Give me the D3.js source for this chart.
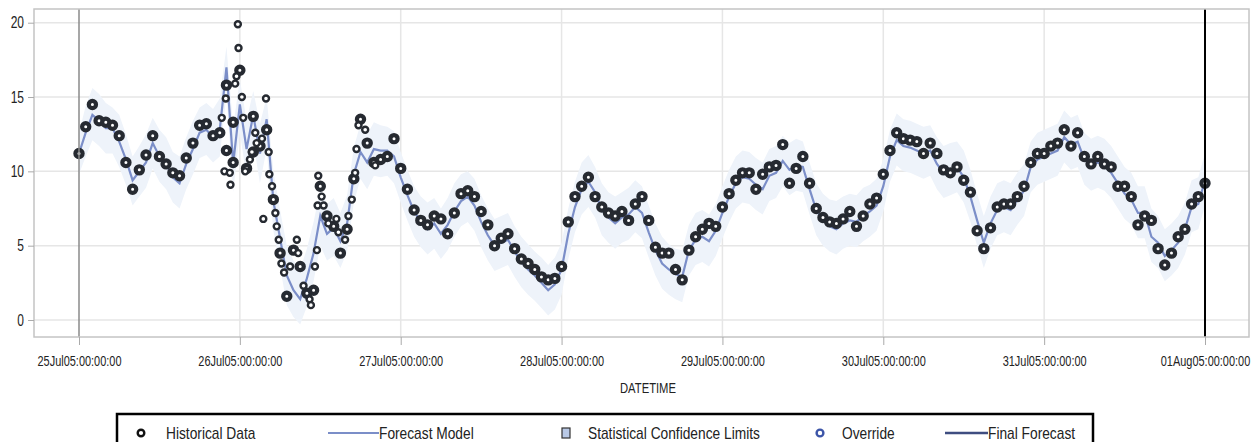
<!DOCTYPE html>
<html>
<head>
<meta charset="utf-8">
<script src="https://cdn.jsdelivr.net/npm/d3@7"></script>
<style>
  body { margin: 0; background: #fff; }
  svg text { font-family: "Liberation Sans", Arial, sans-serif; fill: #222; }
</style>
</head>
<body>
<div id="chart"></div>
<script>
const W = 1255, H = 442;
const frame = {left: 34, right: 1249, top: 9, bottom: 337};

// hourly series starting 25Jul05 00:00 (169 values)
const histData = [
  11.2, 13.0, 14.5, 13.4, 13.3, 13.1, 12.4, 10.6, 8.8, 10.1, 11.1, 12.4, 11.0, 10.5, 9.9, 9.7, 10.9, 11.9, 13.1, 13.2, 12.4, 12.6,
  11.4, 10.6, 16.8, 10.2, 11.3, 11.7, 12.8, 8.1, 4.5, 1.6, 4.7, 3.6, 1.8, 2.0, 9.0, 7.0, 6.3, 4.5, 6.1, 9.5, 13.5, 11.9, 10.6, 10.8, 11.0, 12.2,
  10.2, 8.8, 7.4, 6.7, 6.4, 7.0, 6.8, 5.8, 7.2, 8.5, 8.7, 8.3, 7.3, 6.4, 5.0, 5.5, 5.8, 4.8, 4.1, 3.8, 3.4, 2.9, 2.7, 2.8,
  3.6, 6.6, 8.3, 9.0, 9.6, 8.3, 7.6, 7.2, 7.0, 7.3, 6.7, 7.8, 8.3, 6.7, 4.9, 4.5, 4.5, 3.4, 2.7, 4.7, 5.6, 6.1, 6.5, 6.3,
  7.6, 8.5, 9.4, 9.9, 9.9, 8.8, 9.8, 10.3, 10.4, 11.8, 9.2, 10.2, 11.0, 9.2, 7.5, 6.9, 6.6, 6.5, 6.8, 7.3, 6.3, 7.0, 7.8, 8.2,
  9.8, 11.4, 12.6, 12.2, 12.1, 12.0, 11.2, 11.9, 11.2, 10.1, 9.9, 10.3, 9.4, 8.6, 6.0, 4.8, 6.2, 7.6, 7.8, 7.8, 8.3, 9.0, 10.6, 11.2,
  11.2, 11.7, 11.9, 12.8, 11.7, 12.6, 11.0, 10.5, 11.0, 10.5, 10.3, 9.0, 9.0, 8.3, 6.4, 7.0, 6.7, 4.8, 3.7, 4.5, 5.6, 6.1, 7.8, 8.3, 9.2
];

// scattered observations on 26Jul: [hour, value]
const histExtra = [
  [21.3, 13.6], [21.7, 10.0], [21.9, 14.9], [22.0, 15.8], [22.5, 9.9], [22.6, 9.1], [23.0, 13.3], [23.3, 15.9],
  [23.5, 16.4], [23.8, 18.3], [23.7, 19.9], [24.3, 15.0], [24.5, 13.6], [24.8, 10.0], [25.5, 10.8], [25.8, 11.3],
  [26.0, 13.7], [26.3, 12.6], [26.5, 11.9], [27.3, 12.2], [27.5, 6.8], [27.9, 14.9], [28.3, 11.3], [28.4, 9.8],
  [28.8, 9.0], [29.3, 7.2], [29.5, 6.3], [29.8, 5.4], [30.2, 3.8], [30.6, 3.2], [31.5, 3.6], [32.5, 5.4],
  [32.7, 4.5], [33.5, 2.3], [34.4, 1.4], [34.6, 1.0], [35.2, 3.6], [35.5, 4.7], [35.6, 7.7], [35.7, 9.7],
  [36.2, 8.3], [36.5, 7.7], [37.2, 6.5], [38.4, 6.8], [38.7, 5.9], [39.7, 5.4], [40.2, 7.0], [40.7, 8.1],
  [41.2, 9.9], [41.4, 11.5], [41.7, 13.1], [42.7, 12.8], [44.2, 10.4]
];

const modelData = [
  11.2, 12.6, 13.8, 13.4, 12.9, 12.9, 12.0, 10.8, 9.4, 10.0, 10.6, 11.9, 11.0, 10.5, 9.6, 9.2, 10.5, 11.5, 12.6, 12.8, 12.3, 12.8,
  17.0, 10.5, 14.5, 11.5, 13.8, 11.2, 13.5, 8.0, 5.5, 3.0, 2.0, 1.4, 2.8, 4.5, 7.0, 5.8, 6.2, 5.3, 6.5, 9.8, 11.3, 10.6, 11.5, 11.4, 11.4, 11.0,
  9.6, 8.4, 7.3, 6.6, 6.1, 6.5, 5.8, 6.4, 7.3, 8.0, 8.3, 7.7, 6.6, 5.7, 5.0, 5.2, 5.4, 4.6, 3.9, 3.4, 3.0, 2.5, 2.0, 2.4,
  3.4, 5.8, 7.6, 8.8, 9.3, 8.6, 7.4, 6.9, 6.5, 6.9, 7.1, 7.6, 7.2, 5.9, 4.7, 3.8, 3.4, 3.1, 2.9, 4.7, 5.4, 5.6, 5.3, 6.0,
  7.2, 8.3, 9.2, 9.6, 9.5, 9.1, 8.8, 9.7, 9.9, 10.7, 10.1, 10.4, 10.3, 8.8, 7.4, 6.7, 6.3, 6.1, 6.5, 6.7, 6.6, 7.0, 7.3, 7.7,
  9.0, 11.0, 12.1, 11.7, 11.6, 11.4, 11.2, 11.4, 10.5, 9.9, 10.1, 10.3, 9.6, 8.3, 6.7, 5.2, 6.5, 7.4, 7.6, 7.4, 8.1, 8.7, 10.3, 10.8,
  11.0, 11.2, 11.4, 12.3, 11.8, 12.0, 10.8, 10.4, 10.6, 10.4, 9.9, 9.2, 8.5, 8.1, 7.2, 7.2, 5.6, 5.2, 4.3, 4.7, 5.2, 6.1, 7.6, 7.8, 9.4
];

const upperData = [
  12.6, 14.4, 15.6, 15.2, 14.6, 14.3, 13.8, 12.5, 11.0, 11.7, 12.5, 13.6, 12.8, 12.3, 11.3, 11.0, 12.3, 13.4, 14.3, 14.6, 14.2, 14.9,
  18.4, 13.0, 16.2, 13.4, 15.4, 13.2, 15.0, 10.0, 7.4, 5.0, 4.0, 3.4, 4.8, 6.6, 8.8, 7.8, 8.2, 7.2, 8.4, 11.6, 13.2, 12.5, 13.3, 13.1, 13.0, 12.7,
  11.3, 10.1, 9.0, 8.3, 7.9, 8.2, 7.5, 8.2, 9.2, 9.8, 10.0, 9.5, 8.4, 7.5, 6.8, 7.0, 7.2, 6.3, 5.6, 5.1, 4.6, 4.2, 3.7, 4.2,
  5.2, 7.5, 9.3, 10.6, 11.1, 10.3, 9.2, 8.6, 8.3, 8.6, 8.9, 9.4, 9.0, 7.7, 6.5, 5.6, 5.1, 4.8, 4.7, 6.4, 7.2, 7.4, 7.1, 7.8,
  9.0, 10.1, 11.0, 11.4, 11.3, 10.9, 10.6, 11.5, 11.7, 12.4, 11.9, 12.2, 12.0, 10.6, 9.2, 8.5, 8.1, 8.0, 8.3, 8.5, 8.4, 8.9, 9.1, 9.5,
  10.8, 12.8, 13.9, 13.5, 13.4, 13.2, 13.0, 13.1, 12.3, 11.7, 11.9, 12.0, 11.4, 10.1, 8.5, 7.0, 8.3, 9.2, 9.4, 9.2, 9.9, 10.5, 12.0, 12.6,
  12.8, 13.0, 13.2, 14.1, 13.6, 13.8, 12.6, 12.2, 12.4, 12.2, 11.7, 11.0, 10.3, 9.9, 9.0, 9.0, 7.5, 7.0, 6.1, 6.5, 7.0, 7.9, 9.4, 9.6, 11.2
];

const lowerData = [
  9.8, 11.0, 12.1, 11.7, 11.2, 11.2, 10.3, 9.1, 7.7, 8.3, 8.9, 10.2, 9.3, 8.8, 7.9, 7.5, 8.8, 9.8, 10.9, 11.1, 10.6, 11.0,
  15.2, 8.6, 12.6, 9.6, 12.0, 9.2, 11.5, 6.0, 3.6, 1.0, 0.2, -0.3, 0.9, 2.6, 5.0, 4.0, 4.3, 3.5, 4.6, 7.9, 9.5, 8.8, 9.7, 9.6, 9.7, 9.2,
  7.9, 6.7, 5.6, 4.9, 4.4, 4.8, 4.1, 4.7, 5.6, 6.3, 6.6, 6.0, 4.9, 4.0, 3.3, 3.5, 3.7, 2.9, 2.2, 1.7, 1.3, 0.8, 0.3, 0.7,
  1.7, 4.1, 5.9, 7.1, 7.6, 6.9, 5.7, 5.2, 4.8, 5.2, 5.4, 5.9, 5.5, 4.2, 3.0, 2.1, 1.7, 1.4, 1.2, 3.0, 3.7, 3.9, 3.6, 4.3,
  5.5, 6.6, 7.5, 7.9, 7.8, 7.4, 7.1, 8.0, 8.2, 9.0, 8.4, 8.7, 8.6, 7.1, 5.7, 5.0, 4.6, 4.4, 4.8, 5.0, 4.9, 5.3, 5.6, 6.0,
  7.3, 9.3, 10.4, 10.0, 9.9, 9.7, 9.5, 9.7, 8.8, 8.2, 8.4, 8.6, 7.9, 6.6, 5.0, 3.5, 4.8, 5.7, 5.9, 5.7, 6.4, 7.0, 8.6, 9.1,
  9.3, 9.5, 9.7, 10.6, 10.1, 10.3, 9.1, 8.7, 8.9, 8.7, 8.2, 7.5, 6.8, 6.4, 5.5, 5.5, 3.9, 3.5, 2.6, 3.0, 3.5, 4.4, 5.9, 6.1, 7.7
];

const yTicks = [0, 5, 10, 15, 20];
const legendItems = ["Historical Data", "Forecast Model", "Statistical Confidence Limits", "Override", "Final Forecast"];

const t0 = new Date(2005, 6, 25, 0, 0, 0);
const hourToDate = h => new Date(t0.getTime() + h * 3600 * 1000);

const x = d3.scaleTime()
  .domain([t0, hourToDate(168)])
  .range([79, 1205]);
const y = d3.scaleLinear()
  .domain([0, 20])
  .range([320, 22.7]);

// squeeze text horizontally around its anchor (reference uses a condensed face)
function condense(sel, f) {
  sel.each(function() {
    const ax = +(d3.select(this).attr("x") || 0);
    d3.select(this).attr("transform", `translate(${ax * (1 - f)},0) scale(${f},1)`);
  });
}

const svg = d3.select("#chart").append("svg")
  .attr("width", W).attr("height", H);

const xTicks = d3.range(0, 8).map(d => hourToDate(d * 24));

// grid
svg.append("g").selectAll("line").data(yTicks).join("line")
  .attr("x1", frame.left).attr("x2", frame.right)
  .attr("y1", d => y(d)).attr("y2", d => y(d))
  .attr("stroke", "#e6e6e6").attr("stroke-width", 1.5);
svg.append("g").selectAll("line").data(xTicks.slice(1, 7)).join("line")
  .attr("x1", d => x(d)).attr("x2", d => x(d))
  .attr("y1", frame.top).attr("y2", frame.bottom)
  .attr("stroke", "#e6e6e6").attr("stroke-width", 1.5);

// confidence band
const hours = d3.range(0, 169);
const band = d3.area()
  .x(h => x(hourToDate(h)))
  .y0(h => y(lowerData[h]))
  .y1(h => y(upperData[h]));
svg.append("path").datum(hours)
  .attr("d", band)
  .attr("fill", "#eef3fa");

// forecast model
const modelLine = d3.line()
  .x(h => x(hourToDate(h)))
  .y(h => y(modelData[h]));
svg.append("path").datum(hours)
  .attr("d", modelLine)
  .attr("fill", "none")
  .attr("stroke", "#7b8ec8")
  .attr("stroke-width", 2.2);

// historical data
const histPts = hours.map(h => [h, histData[h]]).concat(histExtra);
svg.append("g").selectAll("circle").data(histPts).join("circle")
  .attr("cx", d => x(hourToDate(d[0])))
  .attr("cy", d => y(d[1]))
  .attr("r", d => Number.isInteger(d[0]) ? 3.6 : 3.0)
  .attr("fill", "#fff")
  .attr("stroke", "#262a31")
  .attr("stroke-width", d => Number.isInteger(d[0]) ? 4.2 : 2.4);

// forecast start / end reference lines
svg.append("line")
  .attr("x1", x(t0)).attr("x2", x(t0))
  .attr("y1", frame.top).attr("y2", frame.bottom)
  .attr("stroke", "#8a8a8a").attr("stroke-width", 1.5);
svg.append("line")
  .attr("x1", x(hourToDate(168))).attr("x2", x(hourToDate(168)))
  .attr("y1", frame.top).attr("y2", frame.bottom)
  .attr("stroke", "#000").attr("stroke-width", 2);

// frame
svg.append("rect")
  .attr("x", frame.left).attr("y", frame.top)
  .attr("width", frame.right - frame.left).attr("height", frame.bottom - frame.top)
  .attr("fill", "none").attr("stroke", "#c4c4c4").attr("stroke-width", 1.5);

// y axis
const yAxis = svg.append("g")
  .attr("transform", `translate(${frame.left},0)`)
  .call(d3.axisLeft(y).tickValues(yTicks).tickSize(6).tickPadding(4));
yAxis.select(".domain").remove();
yAxis.selectAll("line").attr("stroke", "#aaa");
yAxis.selectAll("text").style("font-size", "16px").style("font-family", null).attr("fill", "#222");
condense(yAxis.selectAll("text"), 0.75);

// x axis
const xAxis = svg.append("g")
  .attr("transform", `translate(0,${frame.bottom})`)
  .call(d3.axisBottom(x).tickValues(xTicks).tickFormat(d3.timeFormat("%d%b%y:%H:%M:%S")).tickSize(8).tickPadding(10));
xAxis.select(".domain").remove();
xAxis.selectAll("line").attr("stroke", "#aaa");
xAxis.selectAll("text").style("font-size", "15px").style("font-family", null).attr("fill", "#222");
condense(xAxis.selectAll("text"), 0.73);

const xLabel = svg.append("text")
  .attr("x", 648).attr("y", 393)
  .attr("text-anchor", "middle")
  .style("font-size", "15px")
  .text("DATETIME");
condense(xLabel, 0.75);

// legend
const lg = svg.append("g");
lg.append("rect")
  .attr("x", 117).attr("y", 414)
  .attr("width", 1093 - 117).attr("height", 40)
  .attr("fill", "#fff").attr("stroke", "#000").attr("stroke-width", 2.5);

const ly = 433;
lg.append("circle").attr("cx", 141).attr("cy", ly).attr("r", 3.3)
  .attr("fill", "#fff").attr("stroke", "#111").attr("stroke-width", 2.4);
lg.append("line").attr("x1", 328).attr("x2", 379).attr("y1", ly).attr("y2", ly)
  .attr("stroke", "#7b8ec8").attr("stroke-width", 2.2);
lg.append("rect").attr("x", 562).attr("y", ly - 5).attr("width", 8).attr("height", 10)
  .attr("fill", "#b9c9e6").attr("stroke", "#333").attr("stroke-width", 1.2);
lg.append("circle").attr("cx", 820).attr("cy", ly).attr("r", 3.4)
  .attr("fill", "#fff").attr("stroke", "#3c55a8").attr("stroke-width", 2.4);
lg.append("line").attr("x1", 945).attr("x2", 988).attr("y1", ly).attr("y2", ly)
  .attr("stroke", "#3e4d80").attr("stroke-width", 2.4);

const textX = [166, 379, 588, 842, 988];
const lgText = lg.selectAll("text.lbl").data(legendItems).join("text")
  .attr("class", "lbl")
  .attr("x", (d, i) => textX[i])
  .attr("y", ly + 6)
  .style("font-size", "16px")
  .text(d => d);
condense(lgText, 0.86);
</script>
</body>
</html>
